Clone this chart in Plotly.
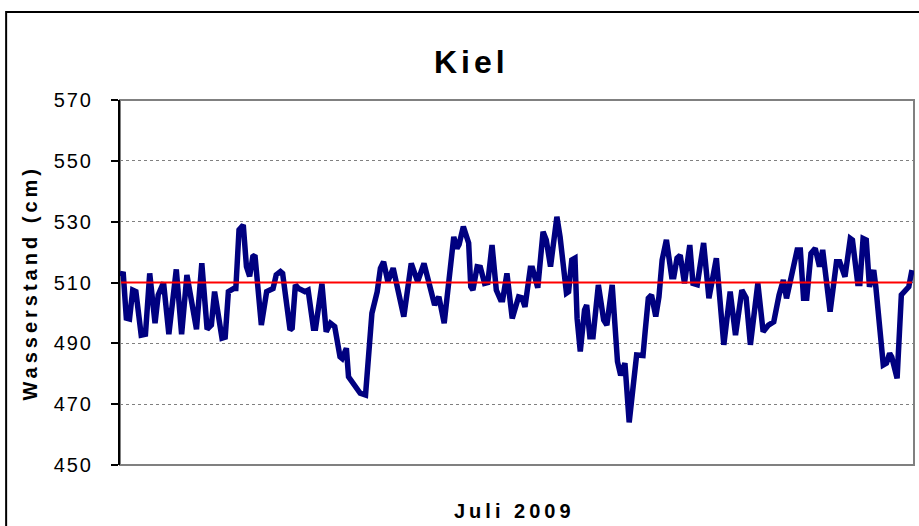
import pandas as pd
import plotly.graph_objects as go

# Stunden seit 1. Juli 2009, 00:00 Uhr
stunden = [0, 2, 5, 8, 11, 14, 19, 23, 27, 32, 35, 40, 45, 52, 57, 62, 71, 76, 81, 85,
           88, 95, 98, 101, 106, 108, 111, 115, 118, 121, 124, 126, 132, 137, 143, 146, 150, 152, 159, 161,
           164, 167, 170, 173, 176, 181, 183, 189, 193, 197, 201, 206, 208, 212, 214, 217, 225, 230, 236, 241,
           244, 247, 251, 256, 266, 273, 279, 285, 295, 299, 304, 313, 316, 318, 322, 327, 329, 331, 335, 338,
           342, 345, 349, 353, 357, 359, 363, 368, 374, 377, 380, 385, 387, 392, 397, 400, 404, 410, 413, 419,
           421, 424, 427, 429, 432, 436, 438, 441, 444, 449, 454, 457, 462, 467, 470, 474, 478, 485, 491, 493,
           496, 499, 503, 506, 509, 513, 518, 520, 523, 526, 530, 535, 538, 542, 548, 553, 560, 567, 573, 578,
           584, 588, 592, 599, 604, 609, 614, 619, 623, 626, 629, 636, 639, 642, 645, 649, 653, 657, 660, 667,
           673, 676, 681, 686, 688, 693, 695, 698, 701, 704, 708, 710, 717, 720, 723, 725, 730, 734, 741, 744]

wasserstand = [512, 513.5, 498.3, 498, 507.5, 507, 492.7, 493, 513, 496.6, 505.9, 510, 493, 514.3, 493, 512.5, 494.6, 516.3, 494.6, 496,
               507, 491.7, 492, 507, 508, 508, 527.3, 528.9, 515.2, 512, 518.5, 519, 496, 507, 508, 512.5, 513.6, 513, 494.4, 495,
               509.2, 508, 507.5, 507, 507.5, 495, 495, 509.6, 493.8, 496.6, 495.5, 485.6, 485, 488.4, 479, 477.4, 473.6, 473, 499.9, 507,
               514.7, 516.8, 510.3, 514.7, 498.8, 516.3, 510.3, 516.3, 502.6, 505.3, 496.6, 525, 521.2, 522.5, 528.4, 523, 508.6, 507.5, 515.2, 515,
               509.7, 510, 522.3, 507.5, 504.3, 504.3, 513, 498.2, 505.3, 505, 502, 514.7, 514.7, 508.3, 526.7, 524, 515.2, 531.6, 525, 506.5,
               507, 517.4, 518, 498.2, 487.3, 501, 502.6, 492.2, 492.2, 509.2, 497.7, 496, 509.2, 484, 479.5, 483.5, 464, 486.2, 486, 493.8,
               504.8, 505.9, 498.8, 505.3, 517.4, 524, 511.9, 511.9, 518, 519, 509.7, 522.3, 509.7, 509.3, 523, 504.8, 518, 489.5, 507, 492.7,
               507.5, 505, 489.5, 509.7, 493.8, 496, 497.1, 505.9, 510.8, 504.8, 509.7, 520.7, 520.7, 504.8, 504.8, 519.6, 521.2, 515.2, 520.7, 500.4,
               516.8, 516.8, 511.9, 524.5, 524, 509.7, 509.7, 524.5, 524, 508.6, 514.1, 508.6, 482.9, 483.5, 486.7, 485.5, 478.5, 505.9, 508.6, 514.1]

mittelwert = 510
y_ticks = [450, 470, 490, 510, 530, 550, 570]

titel = "Kiel"
x_titel = "Juli 2009"
y_titel = "Wasserstand (cm)"

assert len(stunden) == len(wasserstand)

start = pd.Timestamp("2009-07-01 00:00")
zeit = start + pd.to_timedelta(stunden, unit="h")
zeit_mittel = [zeit[0], zeit[-1]]

font_family = "Liberation Sans, Arial, sans-serif"

fig = go.Figure()
fig.add_trace(go.Scatter(
    x=zeit, y=wasserstand, mode="lines",
    line=dict(color="#000080", width=5.5),
    name="Wasserstand", showlegend=False,
))
fig.add_trace(go.Scatter(
    x=zeit_mittel, y=[mittelwert, mittelwert], mode="lines",
    line=dict(color="#FF0000", width=2),
    name="Mittelwert", showlegend=False,
))

x_range = [start - pd.Timedelta(minutes=57), start + pd.Timedelta(hours=745.9)]

fig.update_layout(
    width=919, height=526,
    margin=dict(l=120, r=5, t=100, b=61),
    paper_bgcolor="white", plot_bgcolor="white",
    font=dict(family=font_family, color="black"),
    xaxis=dict(
        range=x_range, showticklabels=False, showgrid=False, ticks="",
        showline=False, zeroline=False,
    ),
    yaxis=dict(
        range=[450, 570], tickvals=y_ticks, ticks="outside", ticklen=7, tickwidth=2,
        tickcolor="black", showline=True, linecolor="black", linewidth=2,
        showgrid=True, gridcolor="#808080", griddash="dot", gridwidth=1,
        zeroline=False, tickfont=dict(size=20, color="black", family=font_family),
        ticklabelstandoff=14,
    ),
    shapes=[
        dict(type="rect", xref="paper", yref="paper", x0=0, x1=1, y0=0, y1=1,
             line=dict(color="#808080", width=2), layer="below"),
        dict(type="rect", xref="paper", yref="paper", x0=-0.1434, x1=1.2, y0=-0.3, y1=1.2411,
             line=dict(color="black", width=2), layer="above"),
    ],
    annotations=[
        dict(text="<b>%s</b>" % titel, xref="paper", yref="paper", x=0.443, y=1.105,
             xanchor="center", yanchor="middle", showarrow=False,
             font=dict(size=32, color="black", family=font_family)),
        dict(text="<b>%s</b>" % x_titel, xref="paper", yref="paper", x=0.497, y=-0.126,
             xanchor="center", yanchor="middle", showarrow=False,
             font=dict(size=20, color="black", family=font_family)),
        dict(text="<b>%s</b>" % y_titel, xref="paper", yref="paper", x=-0.1145, y=0.5,
             xanchor="center", yanchor="middle", showarrow=False, textangle=-90,
             font=dict(size=20, color="black", family=font_family)),
    ],
)

post = """
document.body.style.margin = '0';
document.body.style.overflow = 'hidden';
document.querySelectorAll('.annotation-text').forEach(function(e){
  e.style.letterSpacing = '4px';
});
document.querySelectorAll('.ytick text').forEach(function(e){ e.style.letterSpacing = '2px'; });
"""

fig.write_html("out.html", post_script=post, config={"displayModeBar": False})
